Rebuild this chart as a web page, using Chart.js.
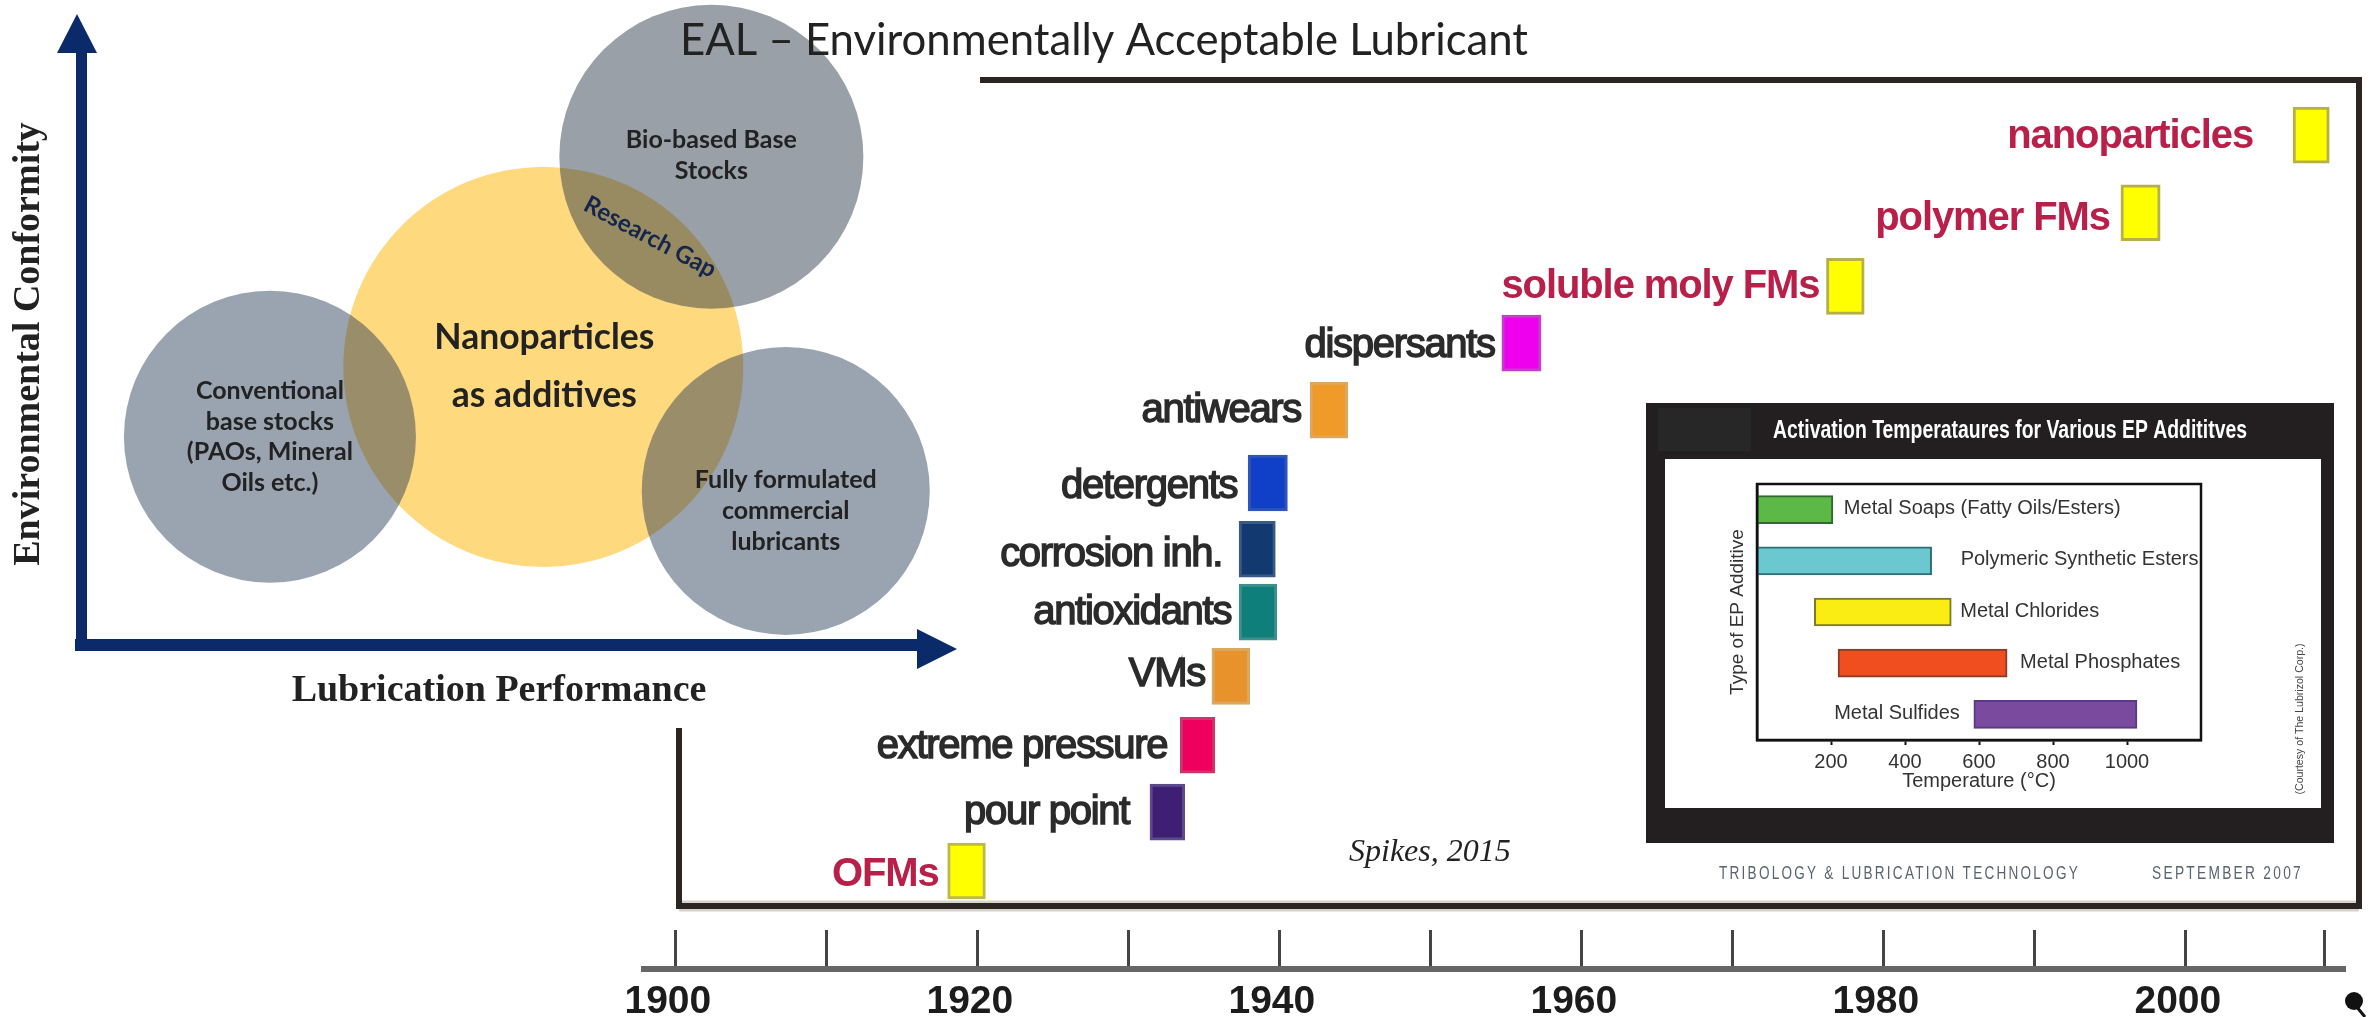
<!DOCTYPE html>
<html>
<head>
<meta charset="utf-8">
<title>EAL - Environmentally Acceptable Lubricant</title>
<script src="https://cdn.jsdelivr.net/npm/chart.js@4/dist/chart.umd.min.js"></script>
<style>
  html, body { margin: 0; background: #fff; overflow: hidden; width: 2374px; height: 1017px; }
  canvas { position: absolute; display: block; }
  #timeline { left: 0; top: 0; }
  #bubbles { left: 0; top: 0; }
  #inset { left: 1640px; top: 395px; }
</style>
</head>
<body>
<canvas id="timeline" width="2374" height="1017"></canvas>
<canvas id="bubbles" width="1600" height="728"></canvas>
<canvas id="inset" width="705" height="495"></canvas>
<script>
// additive timeline
const additiveNames = ['OFMs', 'pour point', 'extreme pressure', 'VMs', 'antioxidants', 'corrosion inh.',
    'detergents', 'antiwears', 'dispersants', 'soluble moly FMs', 'polymer FMs', 'nanoparticles'];
const additiveStart = [1918.0, 1931.4, 1933.4, 1935.5, 1937.3, 1937.3, 1937.9, 1942.0, 1954.7, 1976.2, 1995.7, 2007.1];
const additiveEnd = [1920.5, 1933.7, 1935.7, 1938.0, 1939.8, 1939.7, 1940.5, 1944.5, 1957.3, 1978.7, 1998.3, 2009.5];
const additiveLevel = [0, 0.88, 1.88, 2.91, 3.87, 4.81, 5.80, 6.89, 7.89, 8.74, 9.84, 11.0];
const yearTicks = [1900, 1910, 1920, 1930, 1940, 1950, 1960, 1970, 1980, 1990, 2000, 2009.2];
const yearLabels = [1900, 1920, 1940, 1960, 1980, 2000];

// venn style diagram
const bubbleNames = ['Nanoparticles as additives', 'Conventional base stocks', 'Bio-based Base Stocks', 'Fully formulated commercial lubricants'];
const bubblePerformance = [55.3, 22.6, 75.4, 84.3];
const bubbleConformity = [46.2, 34.6, 81.1, 25.6];
const bubbleSize = [200, 146, 152, 144];

// EP additive inset
const epNames = ['Metal Soaps (Fatty Oils/Esters)', 'Polymeric Synthetic Esters', 'Metal Chlorides', 'Metal Phosphates', 'Metal Sulfides'];
const epLow = [0, 0, 155, 219, 586];
const epHigh = [205, 472, 525, 676, 1027];
const epTicks = [200, 400, 600, 800, 1000];

// styles
const additiveColors = ['#ffff00', '#3f1f73', '#f0005e', '#e8922c', '#0e7f7a', '#123a70', '#1140c8', '#f09a2a', '#ee00ee', '#ffff00', '#ffff00', '#ffff00'];
const additiveBorders = ['#bdb84e', '#5d4a8c', '#c8386c', '#d9a860', '#3f8f8a', '#3a5a86', '#2f55b8', '#dba860', '#c040c8', '#b5b04a', '#b5b04a', '#b5b04a'];
const additiveTextColors = ['#b8204a', '#2b2b2b', '#2b2b2b', '#2b2b2b', '#2b2b2b', '#2b2b2b', '#2b2b2b', '#2b2b2b', '#2b2b2b', '#b8204a', '#b8204a', '#b8204a'];
const additiveGap = [9, 21, 13, 7, 8, 17, 11, 9, 7, 7, 11, 40];
const additiveDy = [4, 1, 2, -1, 1, 6, 4, 1, 3, 1, 6, 2];
const bubbleColors = ['#fed97e', 'rgba(30, 50, 80, 0.45)', 'rgba(30, 45, 62, 0.45)', 'rgba(30, 50, 80, 0.45)'];
const bubbleText = [
    { lines: ['Nanoparticles', 'as additives'], font: 'bold 35.5px Lato', step: 58, dy: 0 },
    { lines: ['Conventional', 'base stocks', '(PAOs, Mineral', 'Oils etc.)'], font: 'bold 25px Lato', step: 30.5, dy: 0 },
    { lines: ['Bio-based Base', 'Stocks'], font: 'bold 25px Lato', step: 31, dy: -1 },
    { lines: ['Fully formulated', 'commercial', 'lubricants'], font: 'bold 25px Lato', step: 31, dy: 20 }
];
const epColors = ['#5cb947', '#6cc8d0', '#f9ed14', '#f04e1f', '#7a4a9e'];
const epBorders = ['#2f6b30', '#2d6f78', '#7c7a2b', '#8a3a28', '#5a3a86'];
const epGap = [11, 29, 9, 13, -14];

const navy = '#0a2a6a';

// width squeezes the text to the given pixel width when there is no narrow font for it
function drawText(ctx, str, x, y, font, color, align, rotation, spacing, width) {
    ctx.save();
    ctx.translate(x, y);
    if (rotation) ctx.rotate(rotation);
    ctx.font = font;
    ctx.fillStyle = color;
    ctx.textAlign = align || 'left';
    ctx.textBaseline = 'middle';
    if (spacing) ctx.letterSpacing = spacing;
    if (width) ctx.scale(width / ctx.measureText(str).width, 1);
    ctx.fillText(str, 0, 0);
    ctx.restore();
}

const timelinePlugin = {
    id: 'timelineExtras',
    beforeDatasetsDraw(chart) {
        const ctx = chart.ctx;
        ctx.save();
        // frame round the timeline
        ctx.strokeStyle = '#d8d2cc';
        ctx.lineWidth = 11;
        ctx.beginPath();
        ctx.moveTo(679, 906);
        ctx.lineTo(2359, 906);
        ctx.stroke();
        ctx.strokeStyle = '#2b2624';
        ctx.lineWidth = 6;
        ctx.strokeRect(679, 80, 1680, 826);
        ctx.restore();
    },
    afterDatasetsDraw(chart) {
        const ctx = chart.ctx;
        const x = chart.scales.x;
        const bars = chart.getDatasetMeta(0).data;
        additiveNames.forEach((name, i) => {
            const red = additiveTextColors[i] !== '#2b2b2b';
            const px = x.getPixelForValue(additiveStart[i]) - additiveGap[i];
            ctx.save();
            ctx.font = (red ? 'bold ' : '') + '40px "Liberation Sans"';
            ctx.letterSpacing = red ? '-1.1px' : '-1.3px';
            ctx.fillStyle = additiveTextColors[i];
            ctx.strokeStyle = additiveTextColors[i];
            ctx.lineWidth = 1.5;
            ctx.textAlign = 'right';
            ctx.textBaseline = 'middle';
            ctx.fillText(name, px, bars[i].y + additiveDy[i]);
            if (!red) ctx.strokeText(name, px, bars[i].y + additiveDy[i]);
            ctx.restore();
        });
        drawText(ctx, 'Spikes, 2015', 1349, 853, 'italic 32px "Liberation Serif"', '#222');
        // stray mark at the bottom right of the source image
        ctx.save();
        ctx.fillStyle = '#111';
        ctx.strokeStyle = '#111';
        ctx.beginPath();
        ctx.ellipse(2354, 1001, 9, 9, 0, 0, Math.PI * 2);
        ctx.fill();
        ctx.lineWidth = 3;
        ctx.beginPath();
        ctx.moveTo(2356, 1006);
        ctx.lineTo(2365, 1017);
        ctx.stroke();
        ctx.restore();
    }
};

new Chart(document.getElementById('timeline'), {
    type: 'bar',
    plugins: [timelinePlugin],
    data: {
        labels: additiveNames,
        datasets: [{
            data: additiveNames.map((name, i) => ({ x: [additiveStart[i], additiveEnd[i]], y: additiveLevel[i] })),
            backgroundColor: additiveColors,
            borderColor: additiveBorders,
            borderWidth: 3,
            borderSkipped: false,
            barThickness: 56
        }]
    },
    options: {
        indexAxis: 'y',
        responsive: false,
        animation: false,
        layout: { padding: { left: 644, right: 20, top: 0, bottom: 0 } },
        plugins: { legend: { display: false }, tooltip: { enabled: false } },
        scales: {
            x: {
                type: 'linear',
                min: 1897.89,
                max: 2010.57,
                afterFit: scale => { scale.height = 48; },
                afterBuildTicks: scale => { scale.ticks = yearTicks.map(v => ({ value: v })); },
                grid: { drawOnChartArea: false, tickLength: -39, tickWidth: 3, tickColor: '#444', offset: false },
                border: { display: true, width: 6, color: '#666' },
                ticks: {
                    autoSkip: false,
                    maxRotation: 0,
                    padding: 49,
                    labelOffset: -8,
                    color: '#1c1c1c',
                    font: { family: 'Liberation Sans', size: 39, weight: 'bold' },
                    callback: value => (yearLabels.includes(value) ? String(value) : '')
                }
            },
            y: { type: 'linear', display: false, offset: false, min: -1.465, max: 13.02 }
        }
    }
});

const bubblePlugin = {
    id: 'bubbleExtras',
    beforeDraw(chart) {
        chart.ctx.save();
        chart.ctx.fillStyle = '#fff';
        chart.ctx.fillRect(0, 0, 980, 728);
        chart.ctx.restore();
    },
    afterDraw(chart) {
        const ctx = chart.ctx;
        const area = chart.chartArea;
        // arrow heads on both axes
        ctx.save();
        ctx.fillStyle = navy;
        ctx.beginPath();
        ctx.moveTo(area.left - 4, 14);
        ctx.lineTo(area.left - 24, 53);
        ctx.lineTo(area.left + 16, 53);
        ctx.closePath();
        ctx.fill();
        ctx.beginPath();
        ctx.moveTo(957, area.bottom + 4);
        ctx.lineTo(area.right, area.bottom - 16);
        ctx.lineTo(area.right, area.bottom + 24);
        ctx.closePath();
        ctx.fill();
        ctx.restore();

        const points = chart.getDatasetMeta(0).data;
        bubbleText.forEach((t, i) => {
            const first = points[i].y + t.dy - t.step * (t.lines.length - 1) / 2;
            t.lines.forEach((line, j) => {
                drawText(ctx, line, points[i].x + (i === 0 ? 1 : 0), first + j * t.step, t.font, '#222', 'center');
            });
        });
        drawText(ctx, 'Research Gap', 650, 237, 'bold 24px Lato', '#14264e', 'center', 28 * Math.PI / 180);
        drawText(ctx, 'EAL \u2013 Environmentally Acceptable Lubricant', 680, 41, '44px Lato', '#222', 'left', 0, null, 848);
    }
};

new Chart(document.getElementById('bubbles'), {
    type: 'bubble',
    plugins: [bubblePlugin],
    data: {
        labels: bubbleNames,
        datasets: [{
            data: bubbleNames.map((name, i) => ({ x: bubblePerformance[i], y: bubbleConformity[i], r: bubbleSize[i] })),
            backgroundColor: bubbleColors,
            borderWidth: 0,
            hoverBorderWidth: 0,
            clip: false
        }]
    },
    options: {
        responsive: false,
        animation: false,
        layout: { autoPadding: false, padding: { left: 6, right: 683, top: 43, bottom: 14 } },
        plugins: { legend: { display: false }, tooltip: { enabled: false } },
        scales: {
            x: {
                type: 'linear',
                min: 0,
                max: 100,
                afterFit: scale => { scale.height = 69; },
                grid: { display: false },
                border: { display: true, width: 12, color: navy },
                ticks: { display: false },
                title: {
                    display: true,
                    text: 'Lubrication Performance',
                    color: '#222',
                    padding: 0,
                    font: { family: 'Liberation Serif', size: 38, weight: 'bold' }
                }
            },
            y: {
                type: 'linear',
                min: 0,
                max: 100,
                afterFit: scale => { scale.width = 75; },
                grid: { display: false },
                border: { display: true, width: 11, color: navy },
                ticks: { display: false },
                title: {
                    display: true,
                    text: 'Environmental Conformity',
                    color: '#222',
                    padding: 0,
                    font: { family: 'Liberation Serif', size: 38, weight: 'bold' }
                }
            }
        }
    }
});

const insetPlugin = {
    id: 'insetExtras',
    beforeDraw(chart) {
        const ctx = chart.ctx;
        ctx.save();
        ctx.fillStyle = '#231f20';
        ctx.fillRect(6, 8, 688, 440);
        ctx.fillStyle = '#272727';
        ctx.fillRect(18, 13, 93, 43);
        ctx.fillStyle = '#fff';
        ctx.fillRect(25, 64, 656, 349);
        ctx.restore();
    },
    afterDraw(chart) {
        const ctx = chart.ctx;
        const area = chart.chartArea;
        const x = chart.scales.x;
        const bars = chart.getDatasetMeta(0).data;
        ctx.save();
        ctx.strokeStyle = '#111';
        ctx.lineWidth = 2.5;
        ctx.strokeRect(area.left, area.top, area.right - area.left, area.bottom - area.top);
        ctx.restore();
        epNames.forEach((name, i) => {
            const gap = epGap[i];
            const px = gap > 0 ? x.getPixelForValue(epHigh[i]) + gap : x.getPixelForValue(epLow[i]) + gap;
            drawText(ctx, name, px, bars[i].y - 1, '20px "Liberation Sans"', '#333', gap > 0 ? 'left' : 'right');
        });
        drawText(ctx, 'Activation Temperataures for Various EP Addititves', 133, 36, 'bold 26px "Liberation Sans"', '#fff', 'left', 0, null, 474);
        drawText(ctx, '(Courtesy of The Lubrizol Corp.)', 660, 324, '11px "Liberation Sans"', '#444', 'center', -Math.PI / 2, null, 151);
        drawText(ctx, 'TRIBOLOGY & LUBRICATION TECHNOLOGY', 79, 479, '18px "Liberation Sans"', '#5a6470', 'left', 0, '3px', 361);
        drawText(ctx, 'SEPTEMBER 2007', 512, 479, '18px "Liberation Sans"', '#5a6470', 'left', 0, '3px', 151);
    }
};

new Chart(document.getElementById('inset'), {
    type: 'bar',
    plugins: [insetPlugin],
    data: {
        labels: epNames,
        datasets: [{
            data: epNames.map((name, i) => [epLow[i], epHigh[i]]),
            backgroundColor: epColors,
            borderColor: epBorders,
            borderWidth: 2,
            borderSkipped: false,
            barThickness: 28
        }]
    },
    options: {
        indexAxis: 'y',
        responsive: false,
        animation: false,
        layout: { padding: { left: 86.5, right: 144, top: 89, bottom: 97 } },
        plugins: { legend: { display: false }, tooltip: { enabled: false } },
        scales: {
            x: {
                type: 'linear',
                min: 0,
                max: 1200,
                afterFit: scale => { scale.height = 53; },
                afterBuildTicks: scale => { scale.ticks = epTicks.map(v => ({ value: v })); },
                grid: { drawOnChartArea: false, tickColor: '#111', tickWidth: 2, tickLength: 5 },
                border: { display: true, width: 2.5, color: '#111' },
                ticks: {
                    color: '#333',
                    padding: 5,
                    maxRotation: 0,
                    font: { family: 'Liberation Sans', size: 20 },
                    callback: value => String(value)
                },
                title: {
                    display: true,
                    text: 'Temperature (\u00b0C)',
                    color: '#333',
                    padding: 0,
                    font: { family: 'Liberation Sans', size: 20 }
                }
            },
            y: {
                type: 'category',
                afterFit: scale => { scale.width = 30.5; },
                grid: { display: false },
                border: { display: true, width: 2.5, color: '#111' },
                ticks: { display: false },
                title: {
                    display: true,
                    text: 'Type of EP Additive',
                    color: '#333',
                    padding: 0,
                    font: { family: 'Liberation Sans', size: 19 }
                }
            }
        }
    }
});
</script>
</body>
</html>
